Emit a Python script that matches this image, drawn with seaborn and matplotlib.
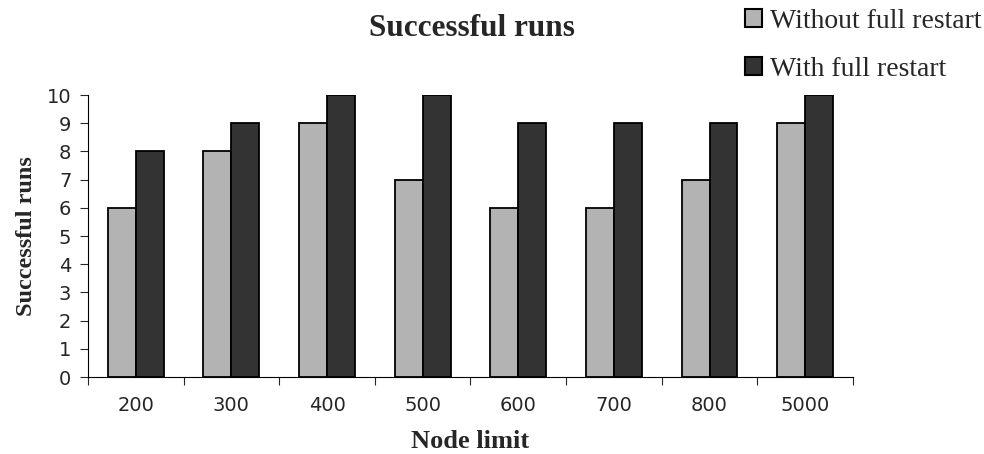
import matplotlib
matplotlib.use("Agg")
import matplotlib.pyplot as plt
import seaborn as sns
import pandas as pd
import numpy as np
from matplotlib.patches import Patch

categories = ["200", "300", "400", "500", "600", "700", "800", "5000"]
without_restart = [6, 8, 9, 7, 6, 6, 7, 9]
with_restart = [8, 9, 10, 10, 9, 9, 9, 10]
series_names = ["Without full restart", "With full restart"]
colors = ["#b3b3b3", "#333333"]

df = pd.DataFrame({
    "Node limit": categories * 2,
    "Successful runs": without_restart + with_restart,
    "series": [series_names[0]] * len(categories) + [series_names[1]] * len(categories),
})

sns.set_style("white")
fig = plt.figure(figsize=(9.84, 4.54), dpi=100)
ax = fig.add_axes([0.0894, 0.1696, 0.7774, 0.6211])

sns.barplot(data=df, x="Node limit", y="Successful runs", hue="series",
            order=categories, hue_order=series_names, palette=colors,
            width=0.585, edgecolor="black", linewidth=1.3, saturation=1,
            legend=False, ax=ax)

ax.set_ylim(0, 10)
ax.set_xlim(-0.5, len(categories) - 0.5)
ax.set_yticks(range(0, 11))
ax.tick_params(axis="y", direction="out", length=6, width=0.8, labelsize=14, pad=6, left=True)
ax.tick_params(axis="x", which="major", length=0, labelsize=14, pad=14)
ax.set_xticks(np.arange(-0.5, len(categories), 1.0), minor=True)
ax.tick_params(axis="x", which="minor", direction="out", length=6, width=0.8, bottom=True)
for lab in ax.get_xticklabels() + ax.get_yticklabels():
    lab.set_fontfamily("DejaVu Sans")

for side in ["top", "right"]:
    ax.spines[side].set_visible(False)
for side in ["left", "bottom"]:
    ax.spines[side].set_linewidth(0.8)
    ax.spines[side].set_color("black")

serif = "Liberation Serif"
ax.set_xlabel("Node limit", fontfamily=serif, fontweight="bold", fontsize=19)
ax.xaxis.set_label_coords(0.5, -0.227)
ax.xaxis.label.set_va("center")
ax.set_ylabel("Successful runs", fontfamily=serif, fontweight="bold", fontsize=17.5)
ax.yaxis.set_label_coords(-0.081, 0.5)
ax.yaxis.label.set_va("center")
fig.text(0.48, 0.938, "Successful runs", ha="center", va="center",
         fontfamily=serif, fontweight="bold", fontsize=22.5)

handles = [Patch(facecolor=c, edgecolor="black", linewidth=1.5) for c in colors]
fig.legend(handles, series_names, loc="upper left", bbox_to_anchor=(0.757, 0.98),
           frameon=False, prop={"family": serif, "size": 20}, handlelength=0.6,
           handleheight=0.6, handletextpad=0.3, labelspacing=0.82, borderaxespad=0,
           borderpad=0)

fig.savefig("out.png", dpi=100)
